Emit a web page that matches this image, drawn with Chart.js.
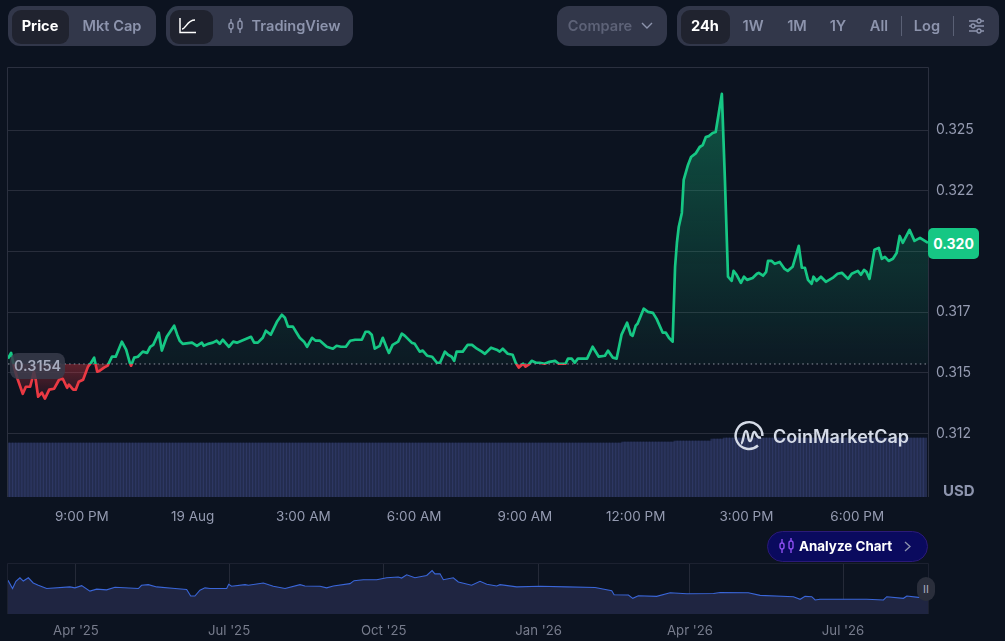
<!DOCTYPE html>
<html>
<head>
<meta charset="utf-8">
<title>Price chart</title>
<script src="https://cdn.jsdelivr.net/npm/chart.js@4"></script>
<style>
    html, body { margin: 0; padding: 0; background: #0c1320; width: 1005px; height: 641px; overflow: hidden; }
    body { position: relative; font-family: Inter, sans-serif; }
    canvas { position: absolute; left: 0; }
    .abs { position: absolute; }
    .group { position: absolute; top: 6px; height: 40px; background: #32374a; border-radius: 12px; }
    .active { position: absolute; top: 10px; height: 34px; background: #20232f; border-radius: 9px; }
    .btn { position: absolute; top: 6px; height: 40px; line-height: 40px; font-size: 14.6px; font-weight: 600; color: #8d94ad; transform: translateX(-50%); white-space: nowrap; }
    .btn.on { color: #fff; font-weight: 700; }
    .sep { position: absolute; top: 16px; width: 1px; height: 20px; background: #5a6075; }
    svg { position: absolute; overflow: visible; }
</style>
</head>
<body>
<canvas id="mainChart" width="1005" height="530" style="top:0"></canvas>
<canvas id="miniChart" width="1005" height="86" style="top:555px"></canvas>

<div class="group" style="left:8px;width:148px"></div>
<div class="active" style="left:12px;width:57px"></div>
<div class="btn on" style="left:40px">Price</div>
<div class="btn" style="left:112px">Mkt Cap</div>

<div class="group" style="left:166px;width:187px"></div>
<div class="active" style="left:170px;width:43px"></div>
<svg style="left:179px;top:17px" width="18" height="17" viewBox="0 0 18 17" fill="none" stroke="#fff" stroke-width="1.5">
    <path d="M1 1V15.5H17"/><path d="M3 12C7 12 8 3 16 3"/>
</svg>
<svg style="left:228px;top:18px" width="16" height="16" viewBox="0 0 16 16" fill="none" stroke="#8d94ad" stroke-width="1.4">
    <rect x="1" y="5" width="4" height="6" rx="2"/><path d="M3 1V5M3 11V15"/>
    <rect x="10" y="3" width="4" height="8" rx="2"/><path d="M12 0V3M12 11V15"/>
</svg>
<div class="btn" style="left:296px">TradingView</div>

<div class="group" style="left:557px;width:110px"></div>
<div class="btn" style="left:600px;color:#5d6277">Compare</div>
<svg style="left:641px;top:22px" width="12" height="8" viewBox="0 0 12 8" fill="none" stroke="#8d94ad" stroke-width="1.4"><path d="M1 1L6 6L11 1"/></svg>

<div class="group" style="left:677px;width:322px"></div>
<div class="active" style="left:681px;width:49px"></div>
<div class="btn on" style="left:705px">24h</div>
<div class="btn" style="left:753px">1W</div>
<div class="btn" style="left:797px">1M</div>
<div class="btn" style="left:838px">1Y</div>
<div class="btn" style="left:879px">All</div>
<div class="sep" style="left:901px"></div>
<div class="btn" style="left:927px">Log</div>
<div class="sep" style="left:953px"></div>
<svg style="left:969px;top:18px" width="15" height="16" viewBox="0 0 15 16" fill="#32374a" stroke="#8d94ad" stroke-width="1.3">
    <path d="M0 3H15M0 8H15M0 13H15"/><circle cx="10" cy="3" r="2"/><circle cx="4" cy="8" r="2"/><circle cx="10" cy="13" r="2"/>
</svg>

<div class="abs" style="left:10px;top:353px;width:55px;height:26px;line-height:26px;text-align:center;background:rgba(56,60,75,.85);border-radius:8px;color:#a6abbd;font-size:14.4px;font-weight:600">0.3154</div>
<div class="abs" style="left:928px;top:228px;width:51px;height:31px;line-height:31px;text-align:center;background:#16c784;border-radius:5px;color:#fff;font-size:14px;font-weight:700">0.320</div>
<div class="abs" style="left:943px;top:482px;color:#8d94ad;font-size:15px;font-weight:700;line-height:18px">USD</div>

<svg style="left:734px;top:421px" width="30" height="30" viewBox="0 0 30 30" fill="none" stroke="#d5dbe7" stroke-width="2.4">
    <path d="M24 24.5A13.4 13.4 0 1 1 28.4 15"/>
    <path d="M7 22.5C9.5 22 9.5 10 12 10C14.5 10 13.5 20 16 20C18.5 20 18 10.5 20.5 11C22.8 11.5 21.5 17.5 27 16.5"/>
</svg>
<div class="abs" style="left:773px;top:424px;color:#d5dbe7;font-size:18px;font-weight:600;line-height:26px;white-space:nowrap">CoinMarketCap</div>

<div class="abs" style="left:767px;top:531px;width:159px;height:29px;background:#0a0a5e;border:1px solid #2b1a78;border-radius:16px"></div>
<svg style="left:779px;top:538px" width="16" height="16" viewBox="0 0 16 16" fill="none" stroke="#8c4df0" stroke-width="1.4">
    <rect x="1" y="5" width="4" height="6" rx="2"/><path d="M3 1V5M3 11V15"/>
    <rect x="10" y="3" width="4" height="8" rx="2"/><path d="M12 0V3M12 11V15"/>
</svg>
<div class="abs" style="left:799px;top:531px;line-height:31px;font-size:13.4px;font-weight:700;color:#fff;white-space:nowrap">Analyze Chart</div>
<svg style="left:904px;top:541px" width="7" height="11" viewBox="0 0 7 11" fill="none" stroke="#8d94ad" stroke-width="1.3"><path d="M1 1L6 5.5L1 10"/></svg>

<div class="abs" style="left:917px;top:577px;width:18px;height:24px;line-height:24px;text-align:center;background:#2a2e3b;border-radius:9px;color:#a6abbd;font-size:11px">II</div>

<script>
// precio 24h: minutos desde las 19:00 del dia anterior
const priceTimes = [0,5,11,16,24,29,36,39,42,45,49,55,60,67,75,83,89,96,99,106,110,115,122,130,135,140,145,149,156,162,169,175,185,192,198,200,205,211,219,226,231,236,245,250,258,270,275,279,284,299,307,315,318,325,333,339,344,349,359,366,372,395,400,406,414,419,427,437,445,450,455,463,469,474,481,486,494,500,507,518,528,534,541,549,556,564,575,581,586,591,596,604,609,616,619,625,634,640,645,656,661,669,674,681,689,697,702,710,715,721,725,729,739,747,754,762,770,775,785,794,799,804,812,820,825,830,837,841,846,851,858,864,872,880,889,895,906,910,916,921,926,941,950,960,970,975,983,989,997,1006,1012,1015,1020,1023,1033,1040,1048,1054,1064,1069,1074,1080,1084,1087,1090,1095,1098,1105,1110,1118,1124,1129,1134,1139,1145,1150,1160,1165,1170,1176,1179,1184,1191,1196,1201,1210,1217,1220,1227,1232,1235,1241,1246,1254,1262,1267,1275,1285,1290,1295,1300,1306,1309,1314,1321,1329,1340,1348,1355,1365,1371,1381,1386,1391,1395,1400,1408,1415,1420,1425,1431,1438,1444,1449,1454,1465,1473,1482,1495];
const priceValues = [.31558,.31582,.31512,.31471,.31413,.31442,.31442,.31471,.31504,.31471,.31401,.31418,.31393,.3143,.31434,.31471,.31475,.31438,.31451,.3143,.3143,.31463,.31471,.31525,.31541,.31562,.31504,.31508,.31521,.31529,.31566,.31566,.31628,.31595,.31541,.31529,.31562,.31566,.31587,.31582,.31607,.31615,.31665,.31591,.31648,.31694,.31657,.31632,.31619,.31624,.31611,.31624,.31611,.31619,.31624,.31632,.31619,.31636,.31607,.31628,.31624,.31648,.31624,.31624,.31644,.31673,.31657,.3171,.31739,.31727,.3169,.3169,.31665,.31644,.31628,.31607,.31644,.31632,.31632,.31607,.31599,.31611,.31607,.31607,.31632,.31636,.31636,.31669,.31669,.31657,.31599,.31611,.31644,.31599,.31582,.31615,.31628,.31661,.31652,.31624,.31619,.31587,.31591,.3157,.31566,.31541,.31541,.31587,.31574,.31566,.31549,.31587,.31587,.31615,.31615,.31599,.31587,.31578,.31603,.31595,.31587,.31599,.31578,.31574,.31541,.31521,.31537,.31525,.31533,.31549,.31541,.31541,.31537,.31545,.31549,.31537,.31537,.31558,.31558,.31541,.31558,.31558,.31607,.31566,.3157,.31591,.31562,.31558,.31657,.31706,.31657,.31652,.31694,.31702,.31764,.31751,.31747,.31722,.31665,.31665,.31644,.31628,.31937,.32036,.32102,.32159,.32295,.32357,.3239,.32406,.32431,.32439,.32472,.32476,.32489,.32493,.3265,.32295,.31896,.31879,.3192,.31904,.31871,.31896,.31883,.31891,.31908,.31912,.319,.31916,.31961,.31961,.31949,.31957,.31928,.3192,.31937,.32023,.31933,.31933,.31883,.31867,.31896,.31879,.31896,.31875,.31891,.31908,.31912,.31887,.31908,.3192,.31904,.31924,.31916,.31887,.32007,.32015,.3197,.31978,.31961,.3197,.31994,.32064,.32036,.32089,.32044,.32056,.32036];
const precioBase = 0.31536;

// volumen, una barra cada 5 minutos
const volumeValues = [
    54,54,54,54,54,54,54,54,54,54,54,54,54,54,54,54,54,54,54,54,
    54,54,54,54,54,54,54,54,54,54,54,54,54,54,54,54,54,54,54,54,
    54,54,54,54,54,54,54,54,54,54,54,54,54,54,54,54,54,54,54,54,
    54,54,54,54,54,54,54,54,54,54,54,54,54,54,54,54,54,54,54,54,
    54,54,54,54,54,54,54,54,54,54,54,54,54,54,54,54,54,54,54,54,
    54,54,54,54,54,54,54,54,54,54,54,54,54,54,54,54,54,54,54,54,
    54,54,54,54,54,54,54,54,54,54,54,54,54,54,54,54,54,54,54,54,
    54,54,54,54,54,54,54,54,54,54,54,54,54,54,54,54,54,54,54,54,
    54,54,54,54,54,54,54,54,54,54,54,54,54,54,54,54,54,54,54,54,
    54,54,54,54,54,54,54,54,54,54,54,54,54,54,54,54,54,54,54,54,
    55,55,55,55,55,55,55,55,55,55,55,55,55,55,55,55,55,56,56,56,
    56,56,56,56,56,56,56,56,56,58,58,58,58,59,59,59,59,59,59,59,
    59,59,59,59,59,59,59,59,59,59,59,59,59,59,59,59,59,59,59,59,
    59,59,59,59,59,59,59,59,59,59,59,59,59,59,59,59,59,59,59,59,
    59,59,59,59,59,59,59,59,59,59,59,59,59,59,59,59,59,59,59
];

const xTickTimes = [120,300,480,660,840,1020,1200,1380];
const xTickLabels = ['9:00 PM','19 Aug','3:00 AM','6:00 AM','9:00 AM','12:00 PM','3:00 PM','6:00 PM'];
const yTickValues = [0.3125,0.315,0.3175,0.32,0.3225,0.325];
const yTickLabels = ['0.312','0.315','0.317','0.320','0.322','0.325'];

// historico: dias desde el 1 abr 2025
const historyDays = [-40.4,-37.7,-35.7,-33.3,-31.3,-28.3,-25.4,-22.4,-17.4,-3.6,-0.6,3.4,8.3,12.3,18.2,23.2,37.1,39,43,48,58.9,65.8,68.2,70.7,73.7,76.7,79.7,89.6,90.8,92.5,100.5,102.5,111.4,117.3,124.3,133.2,136.1,145.1,149,153,162.9,165.3,170.8,178.8,184.7,191.6,193.6,196.6,201.5,208.5,211.7,213.4,216.4,218.4,224.3,227.3,235.2,240.2,244.2,250.1,252.1,262,275.9,291.7,308.6,318.5,319.9,328.4,331,334.3,345.2,353.2,363.1,379,382.9,399.7,406.7,426.5,430.5,433.4,437.4,439.4,442.3,470.1,480,482,491.9,493.9,500.8,506.5];
const historyValues = [.646,.489,.627,.696,.633,.696,.596,.552,.489,.52,.502,.545,.439,.477,.464,.514,.489,.552,.564,.52,.489,.47,.345,.345,.458,.502,.489,.489,.571,.533,.564,.552,.596,.533,.489,.564,.539,.533,.502,.539,.583,.64,.658,.658,.696,.709,.69,.752,.696,.74,.834,.771,.771,.658,.696,.614,.552,.627,.571,.539,.564,.52,.533,.52,.508,.445,.37,.364,.301,.351,.339,.408,.389,.395,.414,.408,.357,.332,.282,.339,.332,.27,.282,.282,.27,.332,.301,.345,.32,.32];
const historyTickDays = [0,91,183,275,365,456];
const historyTickLabels = ["Apr '25","Jul '25","Oct '25","Jan '26","Apr '26","Jul '26"];

const COLORES = {
    VERDE: '#16c784',
    ROJO: '#ea3943',
    GRID: '#282d3b',
    MARCO: '#2b303f',
    MARCO_MINI: '#1c2130',
    TEXTO: '#959bb1',
    TEXTO_MINI: '#777c8c'
};

function pares(xs, ys) {
    return xs.map((x, i) => ({ x: x, y: ys[i] }));
}

function crearMarco(color) {
    return {
        id: 'frame',
        beforeDraw(chart) {
            const { ctx, chartArea: a } = chart;
            ctx.save();
            ctx.strokeStyle = color;
            ctx.lineWidth = 1;
            ctx.beginPath();
            ctx.moveTo(a.left - 0.5, a.bottom);
            ctx.lineTo(a.left - 0.5, a.top - 0.5);
            ctx.lineTo(a.right + 0.5, a.top - 0.5);
            ctx.lineTo(a.right + 0.5, a.bottom);
            ctx.stroke();
            ctx.restore();
        }
    };
}

const mainChart = new Chart(document.getElementById('mainChart').getContext('2d'), {
    data: {
        datasets: [
            {
                type: 'line',
                data: pares(priceTimes, priceValues),
                yAxisID: 'y',
                borderWidth: 2.7,
                borderColor: COLORES.VERDE,
                borderJoinStyle: 'round',
                pointRadius: 0,
                tension: 0,
                fill: { target: { value: precioBase }, above: 'transparent', below: 'transparent' },
                order: 1
            },
            {
                type: 'line',
                data: [{ x: 0, y: precioBase }, { x: 1495, y: precioBase }],
                yAxisID: 'y',
                borderWidth: 1,
                borderColor: '#8d919e',
                borderDash: [1.5, 3.2],
                pointRadius: 0,
                fill: false,
                order: 0
            },
            {
                type: 'bar',
                data: volumeValues.map((v, i) => ({ x: i * 5, y: v })),
                yAxisID: 'yVol',
                backgroundColor: 'rgba(54,66,116,.55)',
                barThickness: 3.6,
                order: 2
            }
        ]
    },
    options: {
        responsive: false,
        animation: false,
        layout: { padding: { left: 8, top: 68 } },
        plugins: { legend: { display: false }, tooltip: { enabled: false } },
        scales: {
            x: {
                type: 'linear',
                offset: false,
                min: 0,
                max: 1495,
                grid: { display: false },
                border: { display: false },
                afterFit(s) { s.height = 33; },
                afterBuildTicks(s) { s.ticks = xTickTimes.map(v => ({ value: v })); },
                ticks: {
                    color: COLORES.TEXTO,
                    font: { family: 'Inter', size: 13.5 },
                    padding: 4,
                    maxRotation: 0,
                    autoSkip: false,
                    callback: v => xTickLabels[xTickTimes.indexOf(v)]
                }
            },
            y: {
                position: 'right',
                min: 0.309873,
                max: 0.327569,
                grid: { color: COLORES.GRID, drawTicks: false },
                border: { display: false },
                afterFit(s) { s.width = 77; },
                afterBuildTicks(s) { s.ticks = yTickValues.map(v => ({ value: v })); },
                ticks: {
                    color: COLORES.TEXTO,
                    font: { family: 'Inter', size: 14 },
                    padding: 8,
                    callback: v => yTickLabels[yTickValues.indexOf(v)]
                }
            },
            yVol: { display: false, min: 0, max: 429 }
        }
    },
    plugins: [crearMarco(COLORES.MARCO)]
});

// Los degradados dependen de la escala ya calculada
(function aplicarDegradados() {
    const ctx = mainChart.ctx;
    const area = mainChart.chartArea;
    const yBase = mainChart.scales.y.getPixelForValue(precioBase);
    const serie = mainChart.data.datasets[0];

    const linea = ctx.createLinearGradient(0, area.top, 0, area.bottom);
    const t = (yBase - area.top) / (area.bottom - area.top);
    linea.addColorStop(0, COLORES.VERDE);
    linea.addColorStop(t, COLORES.VERDE);
    linea.addColorStop(t, COLORES.ROJO);
    linea.addColorStop(1, COLORES.ROJO);
    serie.borderColor = linea;

    const arriba = ctx.createLinearGradient(0, mainChart.scales.y.getPixelForValue(0.3265), 0, yBase);
    arriba.addColorStop(0, 'rgba(22,199,132,.36)');
    arriba.addColorStop(1, 'rgba(22,199,132,.04)');
    const abajo = ctx.createLinearGradient(0, yBase, 0, mainChart.scales.y.getPixelForValue(0.3139));
    abajo.addColorStop(0, 'rgba(234,57,67,.38)');
    abajo.addColorStop(1, 'rgba(234,57,67,.05)');
    serie.fill = { target: { value: precioBase }, above: arriba, below: abajo };

    mainChart.update('none');
})();

new Chart(document.getElementById('miniChart').getContext('2d'), {
    type: 'line',
    data: {
        datasets: [{
            data: pares(historyDays, historyValues),
            borderWidth: 1.1,
            borderColor: '#3a66d8',
            backgroundColor: '#1f2541',
            pointRadius: 0,
            tension: 0,
            fill: 'origin'
        }]
    },
    options: {
        responsive: false,
        animation: false,
        layout: { padding: { left: 8, right: 77, top: 9 } },
        plugins: { legend: { display: false }, tooltip: { enabled: false } },
        scales: {
            x: {
                type: 'linear',
                min: -40.4,
                max: 506.5,
                grid: { color: '#252a38', drawTicks: false },
                border: { display: false },
                afterFit(s) { s.height = 27; },
                afterBuildTicks(s) { s.ticks = historyTickDays.map(v => ({ value: v })); },
                ticks: {
                    color: COLORES.TEXTO_MINI,
                    font: { family: 'Inter', size: 13.2 },
                    padding: 9,
                    maxRotation: 0,
                    autoSkip: false,
                    callback: v => historyTickLabels[historyTickDays.indexOf(v)]
                }
            },
            y: { display: false, min: 0, max: 0.96 }
        }
    },
    plugins: [crearMarco(COLORES.MARCO_MINI)]
});
</script>
</body>
</html>
